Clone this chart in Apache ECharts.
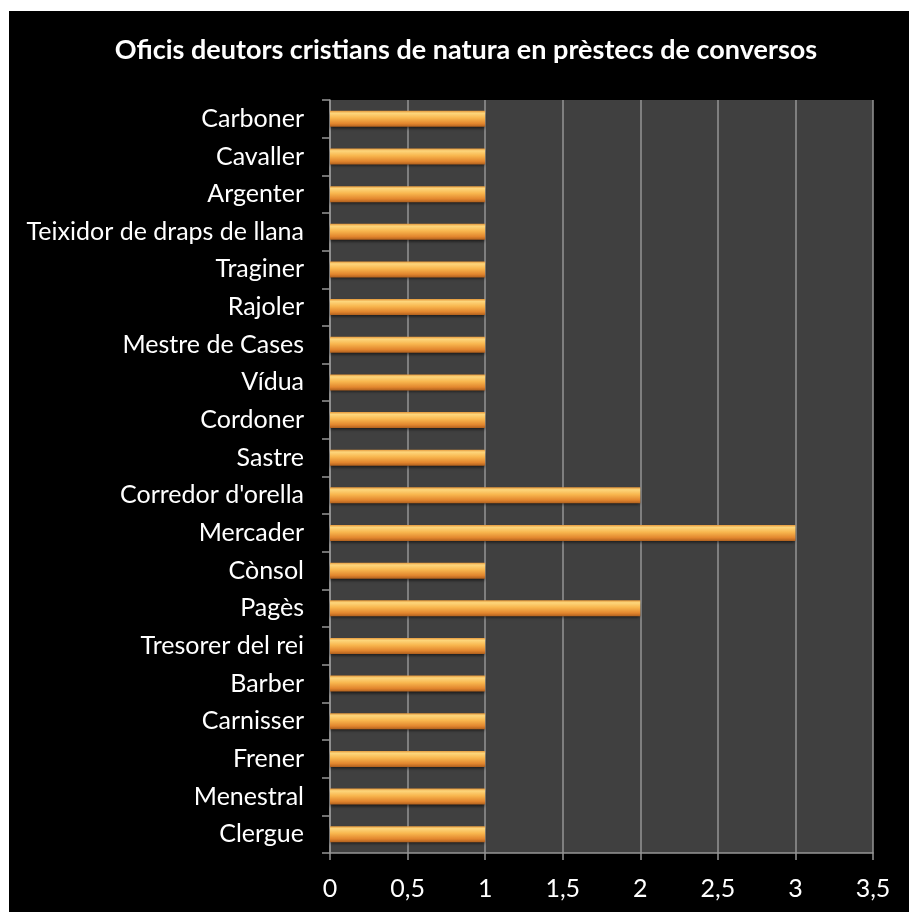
<!DOCTYPE html>
<html><head><meta charset="utf-8">
<script src="https://cdn.jsdelivr.net/npm/echarts@6/dist/echarts.min.js"></script>
<style>
html,body{margin:0;padding:0;background:#fff;width:909px;height:912px;overflow:hidden}
#c{position:absolute;left:9px;top:11px;width:900px;height:901px;background:#000}
</style></head><body>
<div id="c"></div>
<script>
const titleText = "Oficis deutors cristians de natura en prèstecs de conversos";
const categories = ["Clergue","Menestral","Frener","Carnisser","Barber","Tresorer del rei","Pagès","Cònsol","Mercader","Corredor d'orella","Sastre","Cordoner","Vídua","Mestre de Cases","Rajoler","Traginer","Teixidor de draps de llana","Argenter","Cavaller","Carboner"];
const values = [1,1,1,1,1,1,2,1,3,2,1,1,1,1,1,1,1,1,1,1];
const xMin = 0, xMax = 3.5, xStep = 0.5;

const chart = echarts.init(document.getElementById('c'), null, {renderer:'canvas'});
const FONT = 'Lato';
chart.setOption({
  backgroundColor: '#000',
  animation: false,
  title: {
    text: titleText, left: 452, textAlign: 'center', top: 21,
    textStyle: {color:'#fff', fontFamily: FONT, fontWeight:'bold', fontSize: 27}
  },
  grid: {left: 321, top: 89, right: 36, bottom: 59, show: true, backgroundColor:'#404040', borderWidth: 0},
  xAxis: {
    type: 'value', min: xMin, max: xMax, interval: xStep,
    axisLine: {show: true, lineStyle: {color:'#959595', width: 1.5}},
    axisTick: {show: true, length: 7, lineStyle: {color:'#959595', width: 1.5}},
    splitLine: {show: true, lineStyle: {color:'#959595', width: 1.5}},
    axisLabel: {color:'#fff', fontFamily: FONT, fontSize: 25, margin: 23,
      formatter: v => String(v).replace('.', ',')}
  },
  yAxis: {
    type: 'category', data: categories,
    axisLine: {show: true, lineStyle: {color:'#959595', width: 1.5}},
    axisTick: {show: true, length: 8, lineStyle: {color:'#959595', width: 1.5}},
    splitLine: {show: false},
    axisLabel: {color:'#fff', fontFamily: FONT, fontSize: 25, margin: 26}
  },
  series: [{
    type: 'bar', data: values, barWidth: 16,
    itemStyle: {
      color: new echarts.graphic.LinearGradient(0,0,0,1,[
        {offset:0, color:'#e4973a'},
        {offset:0.15, color:'#fdd67c'},
        {offset:0.45, color:'#f8b64e'},
        {offset:0.8, color:'#e2862e'},
        {offset:1, color:'#b0601e'}
      ]),
      shadowColor: 'rgba(0,0,0,0.6)', shadowBlur: 3, shadowOffsetY: 2
    }
  }]
});
</script>
</body></html>
